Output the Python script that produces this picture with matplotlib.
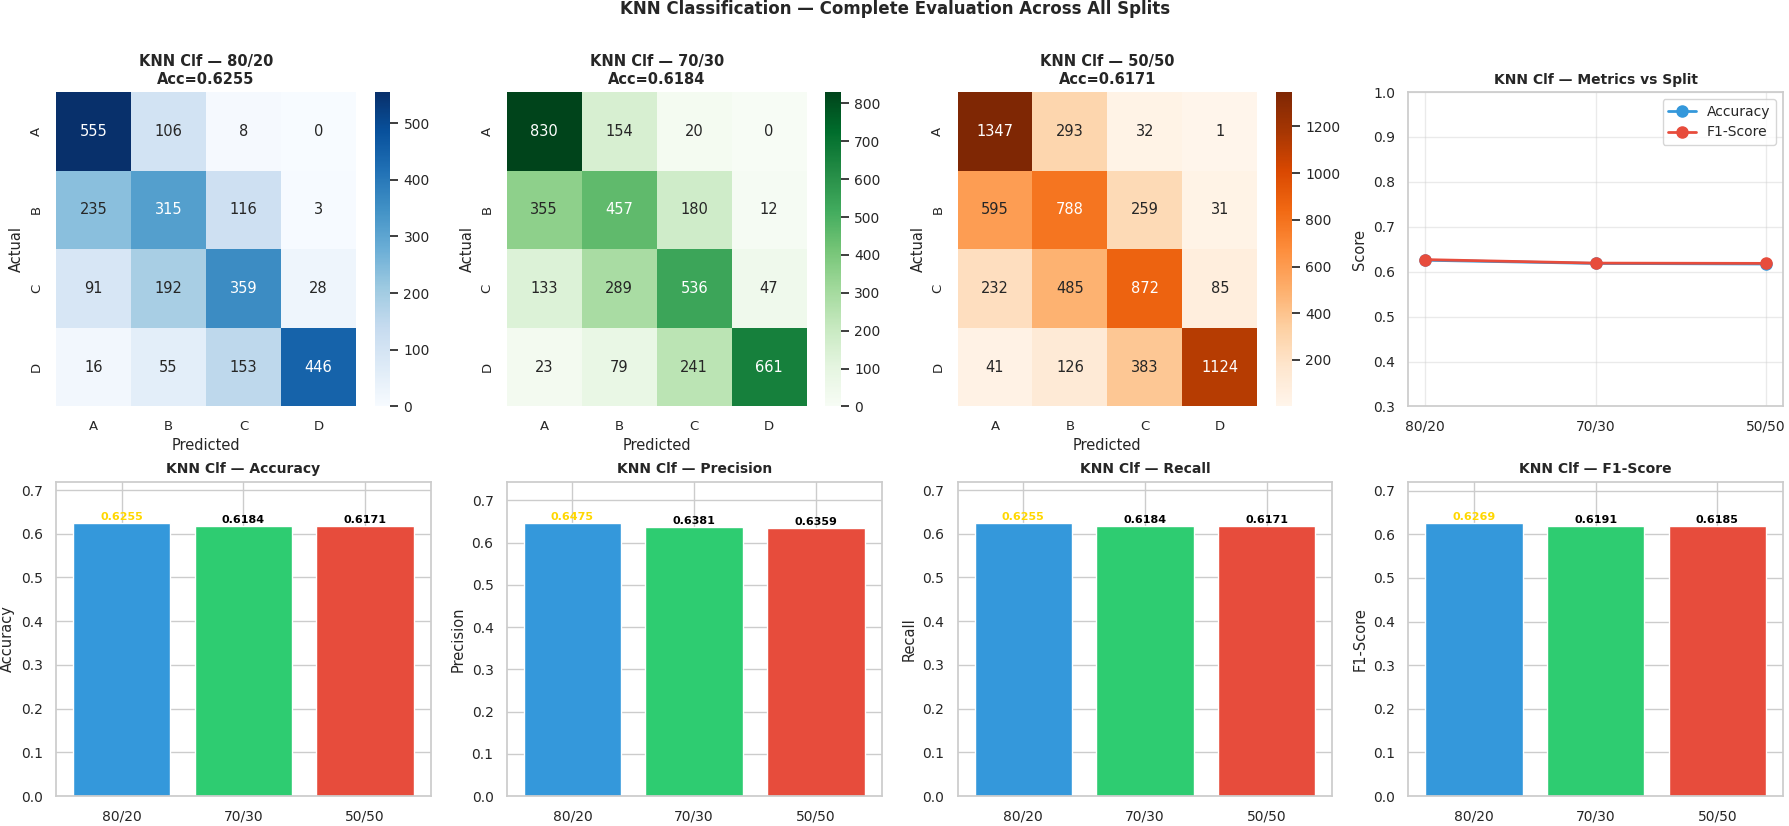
import numpy as np
import matplotlib
matplotlib.use('Agg')
import matplotlib.pyplot as plt
import seaborn as sns

classes = ['A', 'B', 'C', 'D']
splits = ['80/20', '70/30', '50/50']
cmaps = ['Blues', 'Greens', 'Oranges']

cm_80 = [[555, 106, 8, 0],
         [235, 315, 116, 3],
         [91, 192, 359, 28],
         [16, 55, 153, 446]]
cm_70 = [[830, 154, 20, 0],
         [355, 457, 180, 12],
         [133, 289, 536, 47],
         [23, 79, 241, 661]]
cm_50 = [[1347, 293, 32, 1],
         [595, 788, 259, 31],
         [232, 485, 872, 85],
         [41, 126, 383, 1124]]

accuracy = [0.6255, 0.6184, 0.6171]
precision = [0.6475, 0.6381, 0.6359]
recall = [0.6255, 0.6184, 0.6171]
f1 = [0.6269, 0.6191, 0.6185]

bar_colors = ['#3498db', '#2ecc71', '#e74c3c']

sns.set_theme(style='whitegrid')
plt.rcParams['font.family'] = ['DejaVu Sans']

fig, axes = plt.subplots(2, 4, figsize=(17.9, 8.26), dpi=100)
fig.subplots_adjust(left=0.0313, right=0.9961, top=0.8886, bottom=0.0363,
                    wspace=0.2027, hspace=0.239)
fig.suptitle('KNN Classification — Complete Evaluation Across All Splits',
             fontsize=12, fontweight='bold', y=0.989, va='center')

# confusion matrices
for i, (cm, cmap) in enumerate(zip([cm_80, cm_70, cm_50], cmaps)):
    ax = axes[0, i]
    hm = sns.heatmap(np.array(cm), annot=True, fmt='d', cmap=cmap, ax=ax,
                     xticklabels=classes, yticklabels=classes,
                     annot_kws={'size': 10.5})
    ax.set_title('KNN Clf — %s\nAcc=%.4f' % (splits[i], accuracy[i]),
                 fontsize=10.5, fontweight='bold')
    ax.set_xlabel('Predicted', fontsize=10.5)
    ax.set_ylabel('Actual', fontsize=10.5)
    ax.tick_params(labelsize=9.5)
    cbar = hm.collections[0].colorbar
    cbar.ax.tick_params(labelsize=10)

# metrics vs split
ax = axes[0, 3]
x = np.arange(len(splits))
ax.plot(x, accuracy, marker='o', color='#3498db', lw=2, ms=8, label='Accuracy')
ax.plot(x, f1, marker='o', color='#e74c3c', lw=2, ms=8, label='F1-Score')
ax.set_xticks(x)
ax.set_xticklabels(splits)
ax.set_ylim(0.3, 1.0)
ax.set_ylabel('Score', fontsize=10.5)
ax.set_title('KNN Clf — Metrics vs Split', fontsize=10, fontweight='bold')
ax.tick_params(labelsize=10)
ax.grid(True, alpha=0.4)
ax.legend(fontsize=10, loc='upper right')

# per-metric bars
metrics = [('Accuracy', accuracy), ('Precision', precision),
           ('Recall', recall), ('F1-Score', f1)]
for j, (name, vals) in enumerate(metrics):
    ax = axes[1, j]
    bars = ax.bar(splits, vals, color=bar_colors, width=0.8)
    ax.set_ylim(0, max(vals) * 1.15)
    ax.set_title('KNN Clf — %s' % name, fontsize=10, fontweight='bold')
    ax.set_ylabel(name, fontsize=10.5)
    ax.tick_params(labelsize=10)
    best = int(np.argmax(vals))
    for k, (b, v) in enumerate(zip(bars, vals)):
        ax.text(b.get_x() + b.get_width() / 2, v + 0.002, '%.4f' % v,
                ha='center', va='bottom', fontsize=8, fontweight='bold',
                color='#FFD700' if k == best else 'black')

fig.savefig('out.png', dpi=100)
